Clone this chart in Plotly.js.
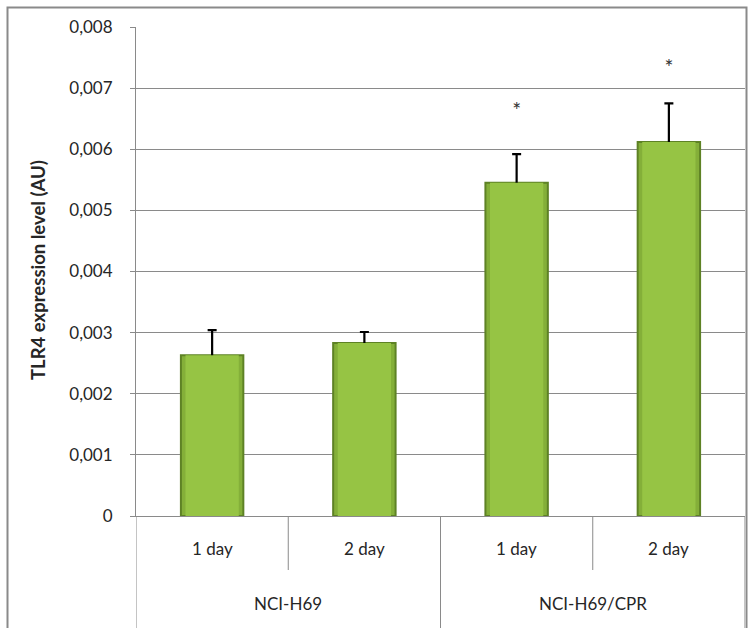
<!DOCTYPE html>
<html>
<head>
<meta charset="utf-8">
<script src="https://cdn.plot.ly/plotly-3.0.1.min.js"></script>
<style>html,body{margin:0;padding:0;background:#fff;}#chart{width:754px;height:628px;}</style>
</head>
<body>
<div id="chart"></div>
<script>
// ---- data ----
const dayLabels = ["1 day", "2 day", "1 day", "2 day"];
const groupLabels = ["NCI-H69", "NCI-H69/CPR"];
const groupSpans = [[0, 1], [2, 3]];
const values = [0.00263, 0.00283, 0.00545, 0.00612];
const errUp = [0.00041, 0.00018, 0.00047, 0.00063];
const sigText = ["", "", "*", "*"];
const sigPos = [null, null, 0.00660, 0.00730];
const yTickVals = [0, 0.001, 0.002, 0.003, 0.004, 0.005, 0.006, 0.007, 0.008];
const yTickText = ["0", "0,001", "0,002", "0,003", "0,004", "0,005", "0,006", "0,007", "0,008"];
const yTitle = "TLR4 expression level (AU)";

// ---- layout helpers ----
const W = 754, H = 628;
const L = 136, R = 9, T = 27, B = 112;
const pw = W - L - R, ph = H - T - B;
const px = v => (v - L) / pw;          // pixel x -> paper
const py = v => (H - B - v) / ph;      // pixel y -> paper
const xs = values.map((_, i) => i);
const FONT = "Lato, 'Open Sans', sans-serif";
const TXT = "#262626";
const GRID = "#8a8a8a";

const traces = [
  {
    type: "bar",
    x: xs,
    y: values,
    width: 0.41,
    marker: { color: "#84AF39", line: { color: "#5E8225", width: 2 } },
    error_y: {
      type: "data", symmetric: true, array: errUp,
      color: "#000", thickness: 2.2, width: 4.5
    },
    hoverinfo: "skip",
    showlegend: false
  },
  {
    type: "bar",
    x: xs,
    y: values,
    width: 0.35,
    marker: { color: "#96C444", line: { width: 0 } },
    hoverinfo: "skip",
    showlegend: false
  },
  {
    type: "scatter",
    mode: "text",
    x: xs,
    y: sigPos,
    text: sigText,
    textposition: "middle center",
    textfont: { family: FONT, size: 21, color: "#333" },
    hoverinfo: "skip",
    showlegend: false
  }
];

const shapes = [];
const annotations = [];
[0.5, 2.5].forEach(x => shapes.push({
  type: "line", xref: "x", yref: "paper", x0: x, x1: x, y0: 0, y1: py(570),
  line: { color: GRID, width: 1 }
}));
[-0.5, 1.5, 3.5].forEach(x => shapes.push({
  type: "line", xref: "x", yref: "paper", x0: x, x1: x, y0: 0, y1: py(640),
  line: { color: GRID, width: 1 }
}));
shapes.push({
  type: "rect", xref: "paper", yref: "paper",
  x0: px(7.5), x1: px(746.5), y0: py(7.5), y1: py(660),
  line: { color: "#8a8a8a", width: 2 }, fillcolor: "rgba(0,0,0,0)", layer: "below"
});

dayLabels.forEach((t, i) => annotations.push({
  xref: "x", yref: "paper", x: i, y: py(548), text: t, showarrow: false,
  xanchor: "center", yanchor: "middle", font: { family: FONT, size: 17, color: TXT }
}));
groupLabels.forEach((t, g) => annotations.push({
  xref: "x", yref: "paper", x: (groupSpans[g][0] + groupSpans[g][1]) / 2, y: py(603),
  text: t, showarrow: false, xanchor: "center", yanchor: "middle",
  font: { family: FONT, size: 17, color: TXT }
}));
annotations.push({
  xref: "paper", yref: "paper", x: px(38), y: py(270), text: "<b>" + yTitle + "</b>",
  textangle: -90, showarrow: false, xanchor: "center", yanchor: "middle",
  font: { family: FONT, size: 18.5, color: TXT }
});

const layout = {
  width: W, height: H,
  margin: { l: L, r: R, t: T, b: B, pad: 0 },
  paper_bgcolor: "#fff", plot_bgcolor: "#fff",
  font: { family: FONT, color: TXT },
  barmode: "overlay",
  xaxis: {
    range: [-0.5, 3.5], showticklabels: false, ticks: "",
    showgrid: false, zeroline: false,
    showline: true, linecolor: GRID, linewidth: 1, fixedrange: true
  },
  yaxis: {
    range: [0, 0.008], tickvals: yTickVals, ticktext: yTickText,
    ticks: "outside", ticklen: 5, tickcolor: GRID, tickwidth: 1,
    ticklabelstandoff: 14,
    tickfont: { family: FONT, size: 17, color: TXT },
    showgrid: true, gridcolor: GRID, gridwidth: 1,
    zeroline: false, showline: true, linecolor: GRID, linewidth: 1, fixedrange: true
  },
  shapes: shapes,
  annotations: annotations,
  showlegend: false
};

Plotly.newPlot("chart", traces, layout, { displayModeBar: false, staticPlot: true });
</script>
</body>
</html>
